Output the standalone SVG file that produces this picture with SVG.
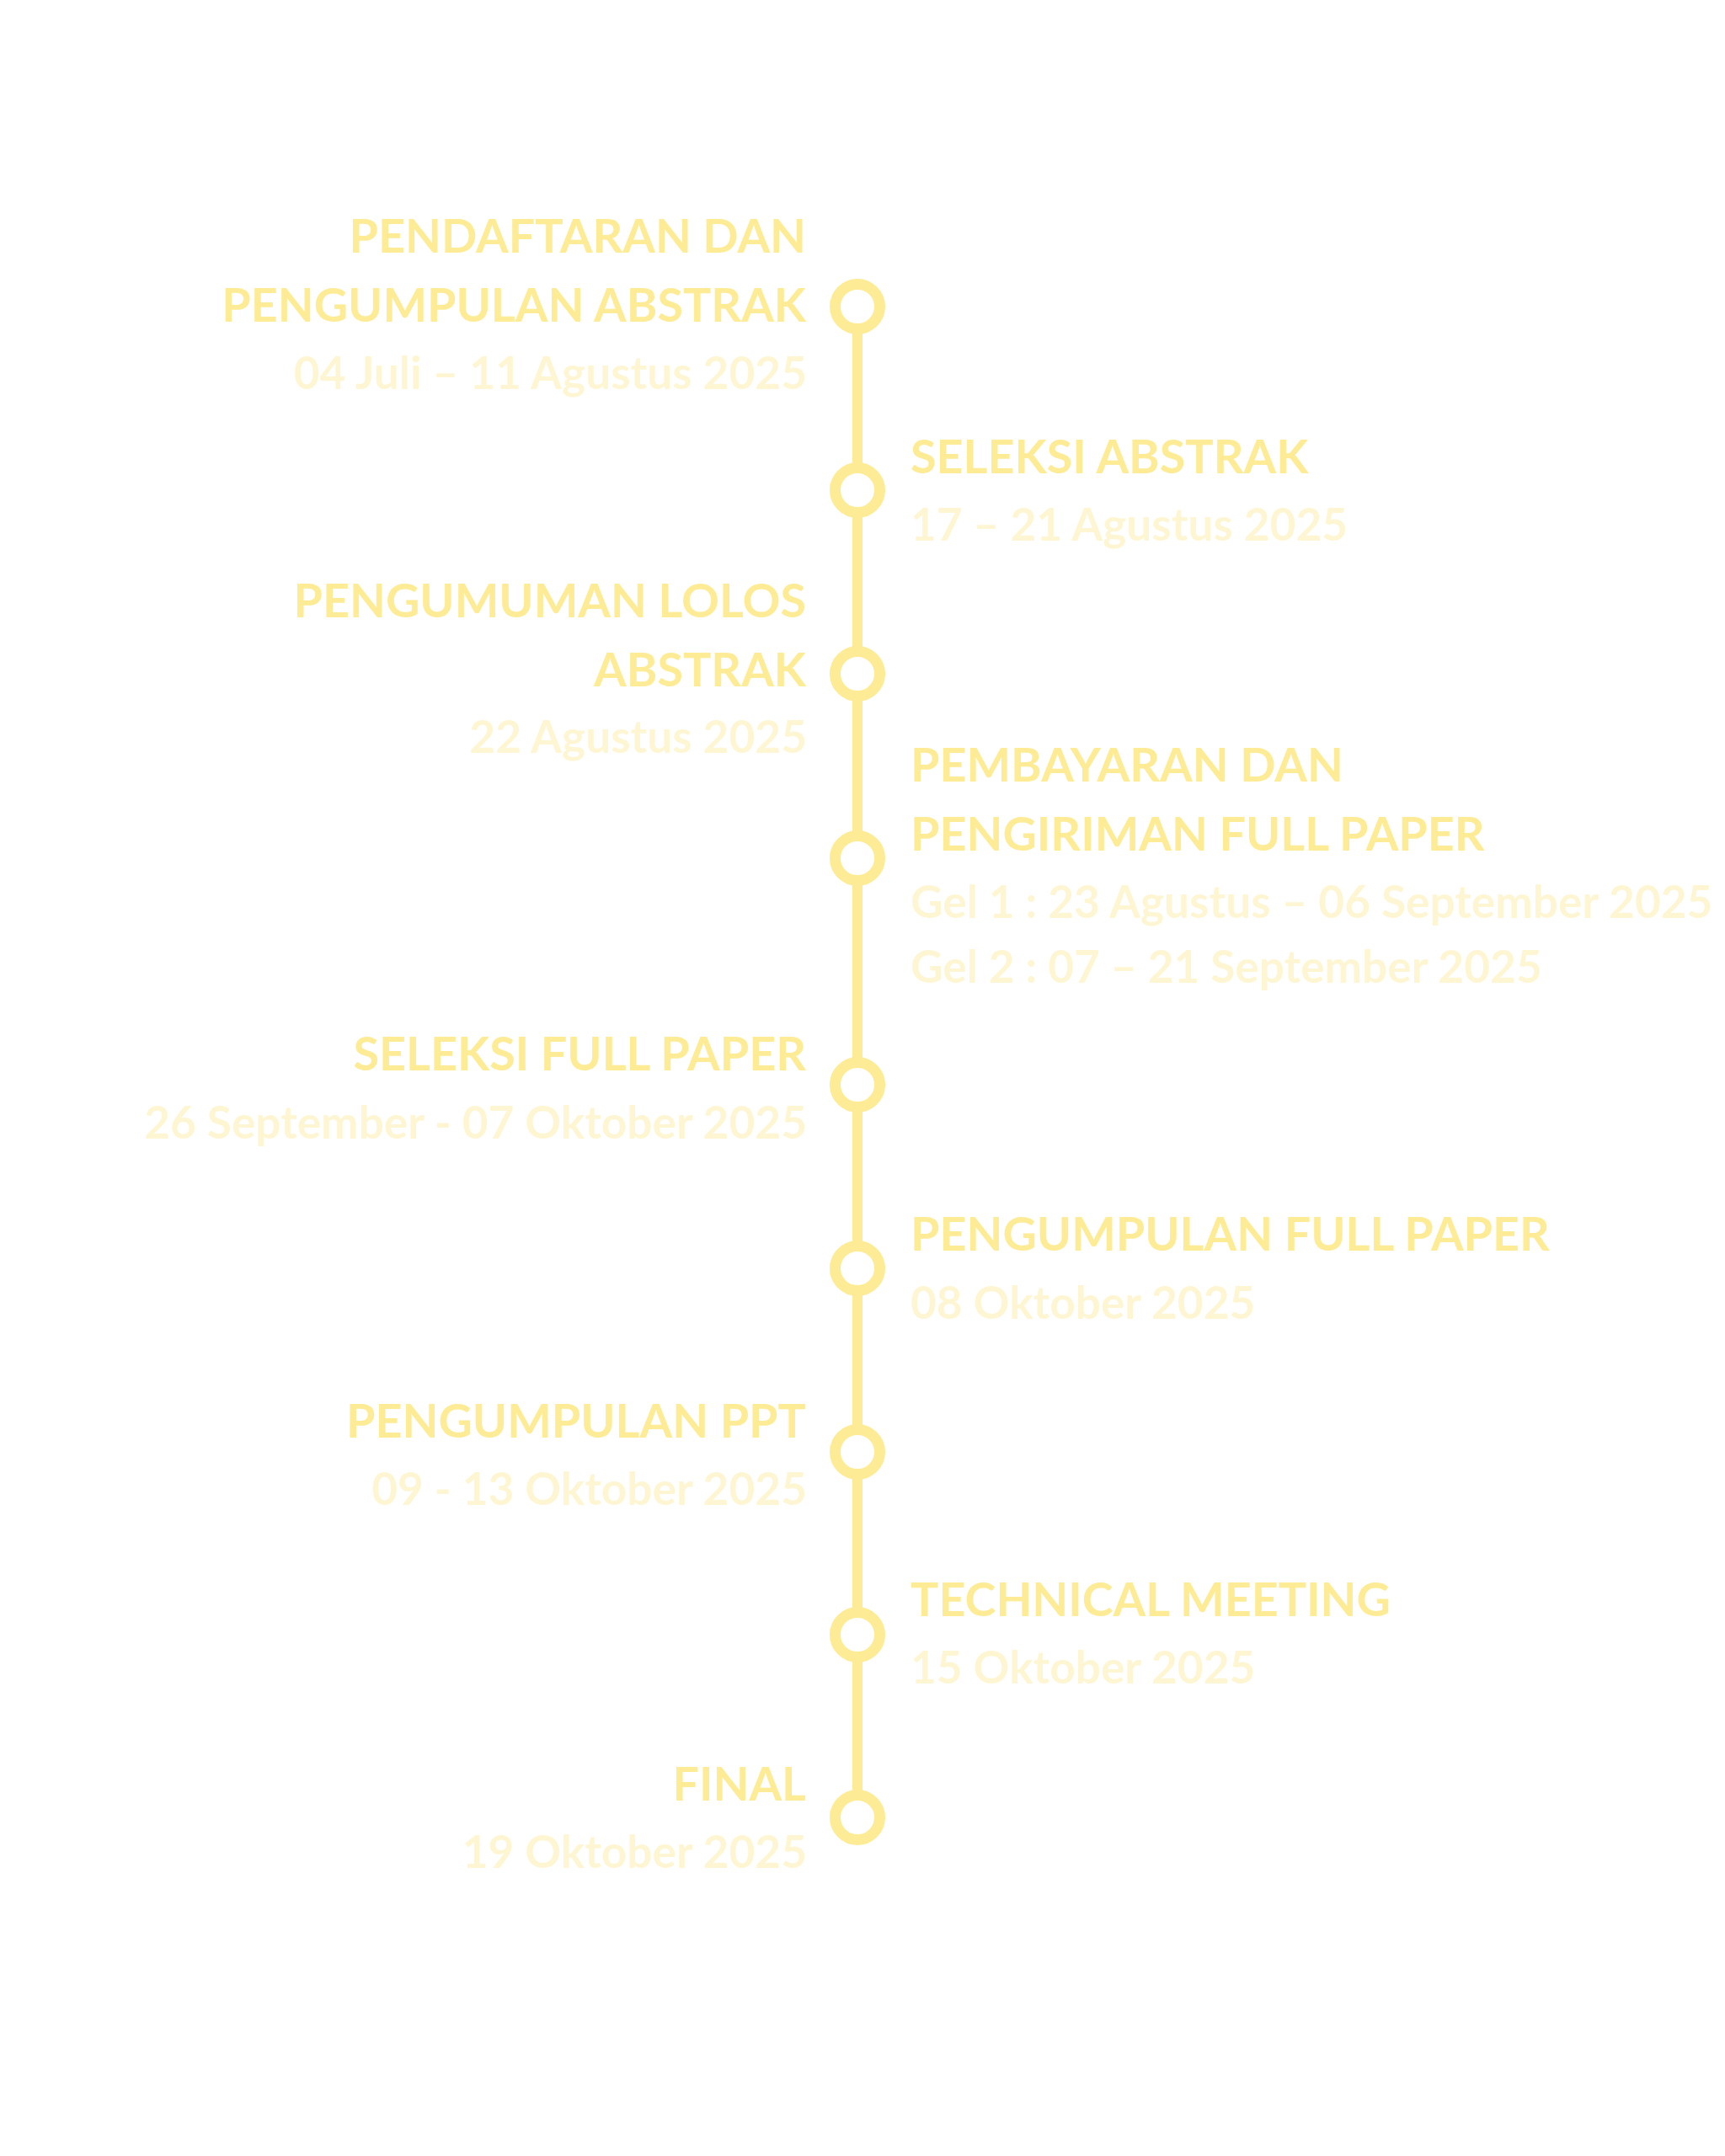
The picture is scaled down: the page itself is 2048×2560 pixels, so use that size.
<svg xmlns="http://www.w3.org/2000/svg" width="2048" height="2560" viewBox="0 0 2048 2560">
<style>
.t{font-family:Lato,"Liberation Sans",sans-serif;font-weight:700;font-size:55.7px;fill:#FDEB96}
.d{font-family:Lato,"Liberation Sans",sans-serif;font-weight:700;font-size:53.2px;fill:#FEF6D3}
.l{text-anchor:end}
.dot{fill:#FFFFFF;stroke:#FDEB96;stroke-width:13}
</style>
<rect width="2048" height="2560" fill="#FFFFFF"/>
<g id="connectors">
<line x1="1018" y1="364" x2="1018" y2="2158" stroke="#FDEB96" stroke-width="12"/>
</g>
<g id="n1">
<circle class="dot" cx="1018" cy="364" r="26.5"/>
<text class="t l" x="957" y="300">PENDAFTARAN DAN</text>
<text class="t l" x="957" y="382">PENGUMPULAN ABSTRAK</text>
<text class="d l" x="958" y="462">04 Juli – 11 Agustus 2025</text>
</g>
<g id="n2">
<circle class="dot" cx="1018" cy="582" r="26.5"/>
<text class="t" x="1081" y="562">SELEKSI ABSTRAK</text>
<text class="d" x="1081" y="642">17 – 21 Agustus 2025</text>
</g>
<g id="n3">
<circle class="dot" cx="1018" cy="800" r="26.5"/>
<text class="t l" x="957" y="733">PENGUMUMAN LOLOS</text>
<text class="t l" x="957" y="815">ABSTRAK</text>
<text class="d l" x="958" y="894">22 Agustus 2025</text>
</g>
<g id="n4">
<circle class="dot" cx="1018" cy="1019" r="26.5"/>
<text class="t" x="1081" y="928">PEMBAYARAN DAN</text>
<text class="t" x="1081" y="1010">PENGIRIMAN FULL PAPER</text>
<text class="d" x="1081" y="1090">Gel 1 : 23 Agustus – 06 September 2025</text>
<text class="d" x="1081" y="1167">Gel 2 : 07 – 21 September 2025</text>
</g>
<g id="n5">
<circle class="dot" cx="1018" cy="1288" r="26.5"/>
<text class="t l" x="957" y="1271">SELEKSI FULL PAPER</text>
<text class="d l" x="958" y="1352">26 September - 07 Oktober 2025</text>
</g>
<g id="n6">
<circle class="dot" cx="1018" cy="1506" r="26.5"/>
<text class="t" x="1081" y="1485">PENGUMPULAN FULL PAPER</text>
<text class="d" x="1081" y="1566">08 Oktober 2025</text>
</g>
<g id="n7">
<circle class="dot" cx="1018" cy="1724" r="26.5"/>
<text class="t l" x="957" y="1707">PENGUMPULAN PPT</text>
<text class="d l" x="958" y="1787">09 - 13 Oktober 2025</text>
</g>
<g id="n8">
<circle class="dot" cx="1018" cy="1941" r="26.5"/>
<text class="t" x="1081" y="1919">TECHNICAL MEETING</text>
<text class="d" x="1081" y="1999">15 Oktober 2025</text>
</g>
<g id="n9">
<circle class="dot" cx="1018" cy="2158" r="26.5"/>
<text class="t l" x="957" y="2138">FINAL</text>
<text class="d l" x="958" y="2218">19 Oktober 2025</text>
</g>
</svg>
